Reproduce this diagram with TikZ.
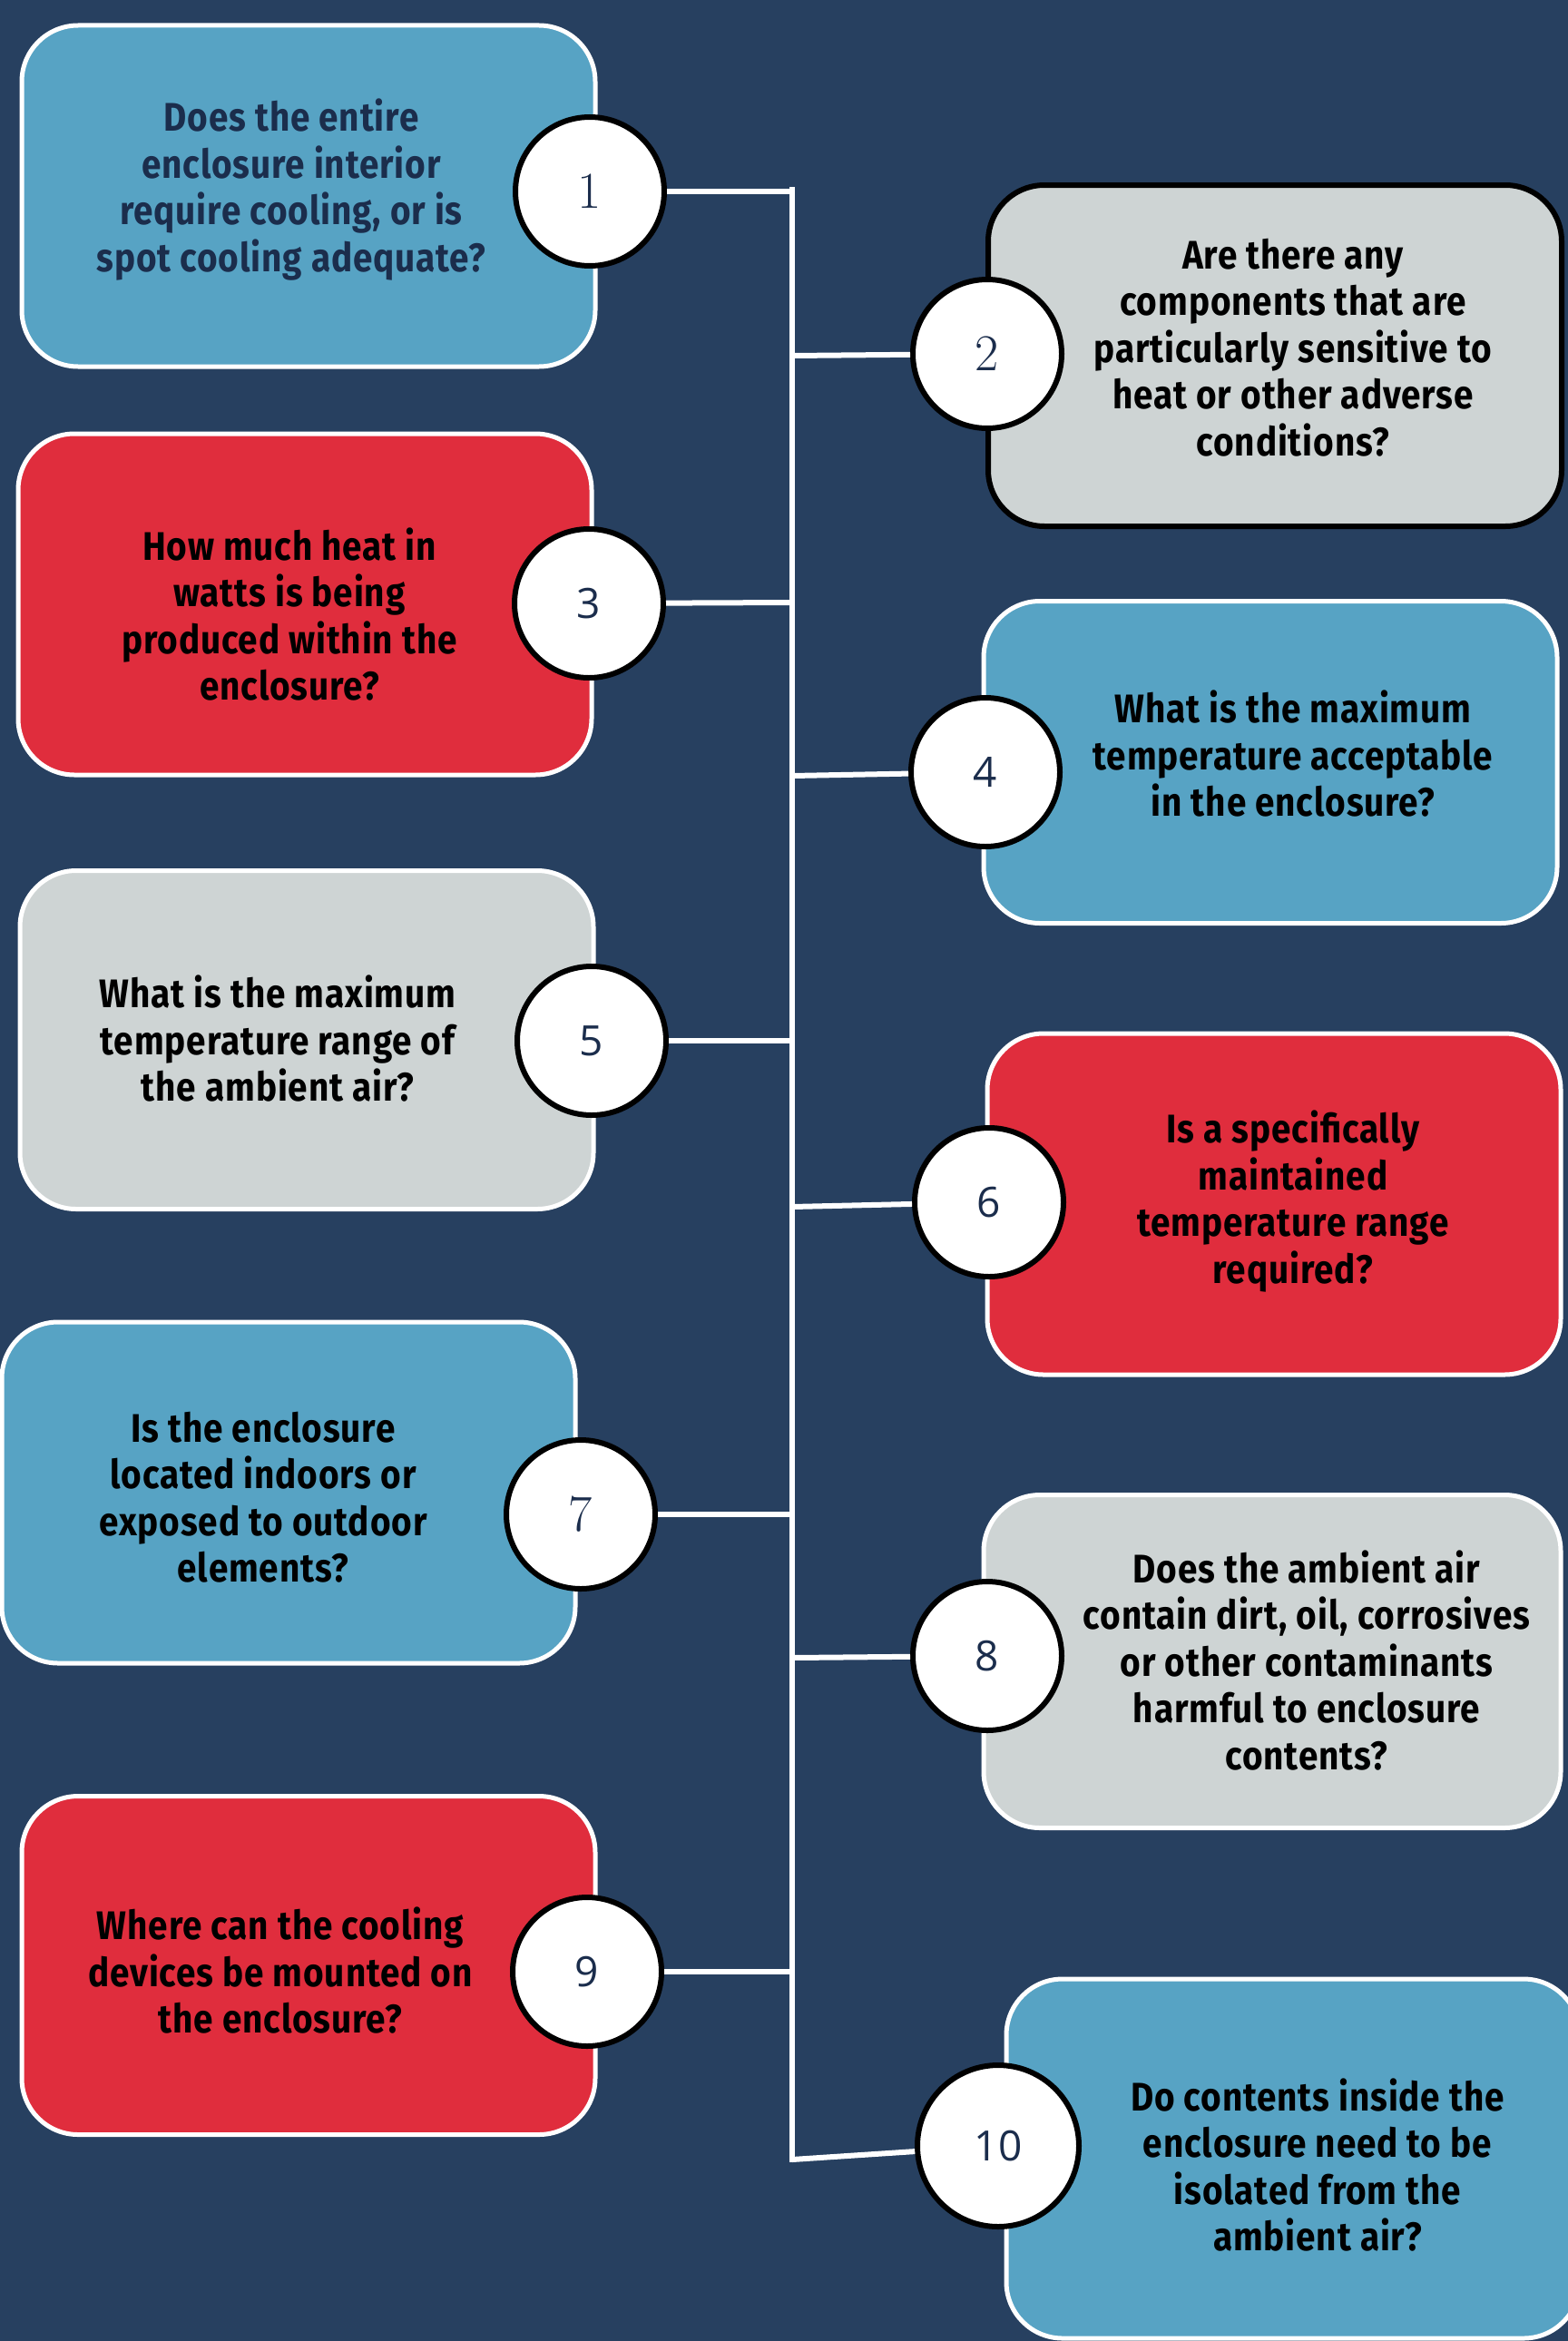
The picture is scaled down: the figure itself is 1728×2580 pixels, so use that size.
\documentclass[tikz,border=0pt]{standalone}
\usepackage{fontspec}
\newfontfamily\qfont{Fira Sans}[FakeStretch=0.88, LetterSpace=2]
\newfontfamily\numfont{Open Sans}
\usepackage{tikz}
\usetikzlibrary{positioning}
\definecolor{bgnavy}{RGB}{39,64,96}
\definecolor{qblue}{RGB}{87,163,196}
\definecolor{qred}{RGB}{224,45,61}
\definecolor{qgrey}{RGB}{206,212,212}
\definecolor{numnavy}{RGB}{27,45,76}

\begin{document}
\begin{tikzpicture}
          [x=1pt, y=-1pt,
           qbox/.style={draw=white, line width=5pt, rounded corners=62pt, minimum width=632pt, minimum height=376pt, inner sep=0pt, outer sep=0pt},
           qtext/.style={align=center, font=\qfont\bfseries\fontsize{44}{51.5}\selectfont, text=black, inner sep=0pt},
           num/.style={circle, draw=black, fill=white, line width=6pt, minimum size=164pt, inner sep=0pt, text=numnavy},
           serifnum/.style={num, font=\fontsize{57}{57}\selectfont},
           sansnum/.style={num, font=\numfont\fontsize{46}{46}\selectfont},
           link/.style={white, line width=6pt}]
          \clip (0,0) rectangle (1728,2580);
          \fill[bgnavy] (0,0) rectangle (1728,2580);

          \node[qbox, fill=qblue] (b1) at (340,216) {};
          \node[qbox, fill=qgrey, draw=black, line width=6pt] (b2) at (1405,392) {};
          \node[qbox, fill=qred] (b3) at (336,666) {};
          \node[qbox, fill=qblue, minimum height=355pt] (b4) at (1400,840) {};
          \node[qbox, fill=qgrey, minimum height=373pt] (b5) at (338,1146) {};
          \node[qbox, fill=qred] (b6) at (1404,1327) {};
          \node[qbox, fill=qblue] (b7) at (318,1645) {};
          \node[qbox, fill=qgrey, minimum width=636pt, minimum height=367pt] (b8) at (1402,1831) {};
          \node[qbox, fill=qred, minimum height=373pt] (b9) at (340,2166) {};
          \node[qbox, fill=qblue, minimum height=396pt] (b10) at (1425,2379) {};

          \node[qtext, text=numnavy] (q1) at (321,209) {Does the entire\\enclosure interior\\require cooling, or is\\spot cooling adequate?};
          \node[qtext] (q2) at (1425,383) {Are there any\\components that are\\particularly sensitive to\\heat or other adverse\\conditions?};
          \node[qtext] (q3) at (319,677) {How much heat in\\watts is being\\produced within the\\enclosure?};
          \node[qtext] (q4) at (1425,831) {What is the maximum\\temperature acceptable\\in the enclosure?};
          \node[qtext] (q5) at (306,1145) {What is the maximum\\temperature range of\\the ambient air?};
          \node[qtext] (q6) at (1425,1324) {Is a specifically\\maintained\\temperature range\\required?};
          \node[qtext] (q7) at (290,1650) {Is the enclosure\\located indoors or\\exposed to outdoor\\elements?};
          \node[qtext] (q8) at (1440,1830) {Does the ambient air\\contain dirt, oil, corrosives\\or other contaminants\\harmful to enclosure\\contents?};
          \node[qtext] (q9) at (309,2172) {Where can the cooling\\devices be mounted on\\the enclosure?};
          \node[qtext] (q10) at (1452,2386) {Do contents inside the\\enclosure need to be\\isolated from the\\ambient air?};

          \coordinate (top) at (873,206);
          \coordinate (bot) at (873,2383);
          \coordinate (j1) at (873,211);
          \coordinate (j2) at (873,392);
          \coordinate (j3) at (873,664);
          \coordinate (j4) at (873,855);
          \coordinate (j5) at (873,1147);
          \coordinate (j6) at (873,1330);
          \coordinate (j7) at (873,1669);
          \coordinate (j8) at (873,1827);
          \coordinate (j9) at (873,2173);
          \coordinate (j10) at (873,2380);
          \draw[link] (top) -- (bot);

          \node[serifnum] (n1) at (650,211) {1};
          \node[serifnum] (n2) at (1088,390) {2};
          \node[sansnum] (n3) at (649,665) {3};
          \node[sansnum] (n4) at (1086,851) {4};
          \node[sansnum] (n5) at (652,1147) {5};
          \node[sansnum] (n6) at (1090,1325) {6};
          \node[serifnum] (n7) at (640,1669) {7};
          \node[sansnum] (n8) at (1088,1825) {8};
          \node[sansnum] (n9) at (647,2173) {9};
          \node[sansnum, minimum size=178pt] (n10) at (1100,2365) {10};

          \draw[link] (n1) -- (j1);
          \draw[link] (n2) -- (j2);
          \draw[link] (n3) -- (j3);
          \draw[link] (n4) -- (j4);
          \draw[link] (n5) -- (j5);
          \draw[link] (n6) -- (j6);
          \draw[link] (n7) -- (j7);
          \draw[link] (n8) -- (j8);
          \draw[link] (n9) -- (j9);
          \draw[link] (n10) -- (j10);

        \end{tikzpicture}
\end{document}
